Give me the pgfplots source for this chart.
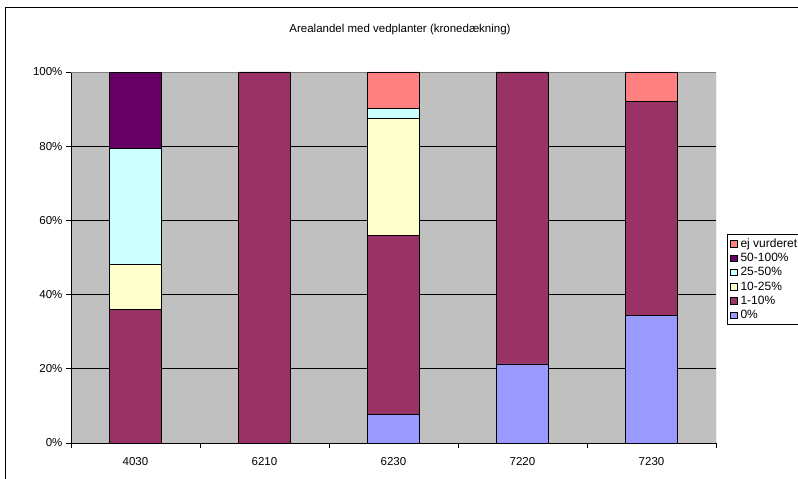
\documentclass[border=0pt]{standalone}
\usepackage{pgfplots}
\pgfplotsset{compat=1.18}
\usepackage{fontspec}
\setmainfont{Liberation Sans}
\definecolor{cA}{HTML}{9999FF}
\definecolor{cB}{HTML}{993366}
\definecolor{cC}{HTML}{FFFFCC}
\definecolor{cD}{HTML}{CCFFFF}
\definecolor{cE}{HTML}{660066}
\definecolor{cF}{HTML}{FF8080}
\definecolor{bg}{HTML}{C0C0C0}
\definecolor{bord}{HTML}{808080}
\begin{document}
\begin{tikzpicture}
\useasboundingbox (0,0) rectangle (798pt,479pt);
\clip (0,0) rectangle (798pt,479pt);
\draw[line width=1pt] (5pt,-5pt) -- (5pt,471pt) -- (810pt,471pt);
\node[font=\fontsize{11.5}{13}\selectfont] at (400pt,449pt) {Arealandel med vedplanter (kronedækning)};
\begin{axis}[
  at={(71pt,36pt)}, anchor=south west,
  scale only axis, width=645pt, height=371pt,
  ybar stacked, bar width=52pt,
  xmin=-0.5, xmax=4.5, ymin=0, ymax=100,
  xtick={-0.5,0.5,1.5,2.5,3.5,4.5}, x tick label as interval,
  xticklabels={4030,6210,6230,7220,7230},
  ytick={0,20,40,60,80,100},
  yticklabels={0\%,20\%,40\%,60\%,80\%,100\%},
  ymajorgrids, grid style={black, line width=0.6pt},
  tick align=outside, major tick length=5pt,
  xtick pos=bottom, ytick pos=left,
  tick style={black, line width=0.6pt},
  axis line style={draw=none},
  axis background/.style={fill=bg},
  ticklabel style={font=\fontsize{11.5}{13}\selectfont},
  x tick label style={yshift=-6pt},
  legend style={at={(1.017,0.562)}, anchor=north west, draw=black, fill=white,
    font=\fontsize{12}{14}\selectfont, inner xsep=3pt, inner ysep=2pt,
    row sep=0.3pt, column sep=1.5pt, line width=0.6pt},
  legend image code/.code={\draw[#1,draw=black,line width=0.4pt] (0pt,-3.2pt) rectangle (6.4pt,3.2pt);},
  reverse legend, legend cell align=left,
]
\addplot[fill=cA, draw=black, line width=0.6pt] coordinates {(0,0) (1,0) (2,7.7) (3,21.3) (4,34.5)};
\addlegendentry{0\%}
\addplot[fill=cB, draw=black, line width=0.6pt] coordinates {(0,36) (1,100) (2,48.2) (3,78.7) (4,57.5)};
\addlegendentry{1-10\%}
\addplot[fill=cC, draw=black, line width=0.6pt] coordinates {(0,12.1) (1,0) (2,31.6) (3,0) (4,0)};
\addlegendentry{10-25\%}
\addplot[fill=cD, draw=black, line width=0.6pt] coordinates {(0,31.2) (1,0) (2,2.7) (3,0) (4,0)};
\addlegendentry{25-50\%}
\addplot[fill=cE, draw=black, line width=0.6pt] coordinates {(0,20.7) (1,0) (2,0) (3,0) (4,0)};
\addlegendentry{50-100\%}
\addplot[fill=cF, draw=black, line width=0.6pt] coordinates {(0,0) (1,0) (2,9.8) (3,0) (4,8)};
\addlegendentry{ej vurderet}
\draw[bord, line width=0.8pt] (rel axis cs:0,1) -- (rel axis cs:1,1) -- (rel axis cs:1,0);
\draw[black, line width=0.8pt] (rel axis cs:0,1) -- (rel axis cs:0,0) -- (rel axis cs:1,0);
\end{axis}
\end{tikzpicture}
\end{document}
